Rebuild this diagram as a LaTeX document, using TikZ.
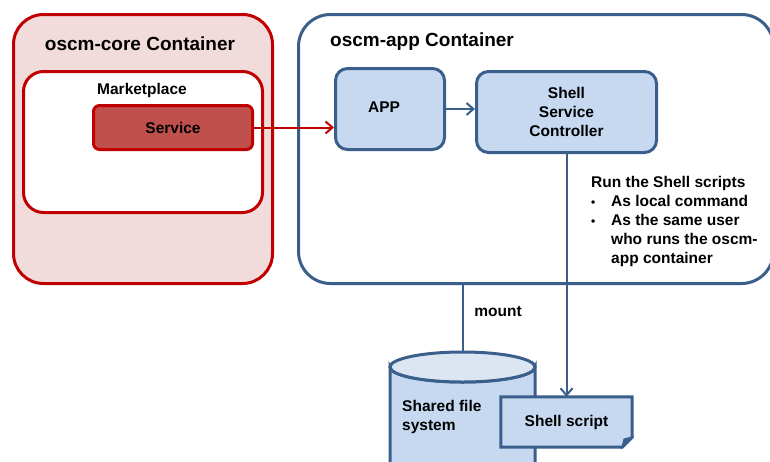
\documentclass[tikz,border=0pt]{standalone}
\usepackage{fontspec}
\setmainfont{Liberation Sans}
\usetikzlibrary{arrows.meta}
\definecolor{redline}{HTML}{C00000}
\definecolor{corefill}{HTML}{F2DCDB}
\definecolor{servfill}{HTML}{C0504D}
\definecolor{blueline}{HTML}{3A5F8B}
\definecolor{bluefill}{HTML}{C6D9F1}
\definecolor{bluetop}{HTML}{DCE6F2}
\begin{document}
\begin{tikzpicture}[x=1pt,y=-1pt,
  every node/.style={font=\fontsize{15.5}{19}\selectfont\bfseries, inner sep=0pt},
  redbox/.style={draw=redline, line width=3pt, rounded corners=#1},
  bluebox/.style={draw=blueline, line width=3pt, fill=bluefill, rounded corners=#1},
  conn/.style={line width=2pt, -{Straight Barb[length=7pt,width=12pt]}},
  title/.style={font=\fontsize{19}{23}\selectfont\bfseries}
]
\useasboundingbox (0,0) rectangle (770,461);
\clip (0,0) rectangle (770,461);
\fill[white] (0,0) rectangle (770,461);

% oscm-core container
\node[redbox=30pt, fill=corefill, minimum width=259pt, minimum height=269pt] (core) at (143,149) {};
\node[title] (coretitle) at (140,44) {oscm-core Container};
\node[redbox=20pt, fill=white, minimum width=239pt, minimum height=141pt] (market) at (143,142) {};
\node (markettxt) at (142,90) {Marketplace};
\node[redbox=6pt, fill=servfill, minimum width=159pt, minimum height=44pt] (service) at (173,127.5) {Service};

% oscm-app container
\node[draw=blueline, line width=3pt, rounded corners=32pt, fill=white, minimum width=475pt, minimum height=269pt] (app) at (536,149) {};
\node[title, anchor=west] (apptitle) at (330,42) {oscm-app Container};
\node[bluebox=12pt, minimum width=109pt, minimum height=81pt] (APP) at (390,109) {};
\node (apptxt) at (384,107) {APP};
\node[bluebox=12pt, minimum width=180pt, minimum height=81pt, align=center] (ssc) at (566.5,112) {Shell\\Service\\Controller};

\node[anchor=north west, align=left] (runtxt) at (591,176)
  {Run the Shell scripts\\
   \makebox[20pt][l]{\fontsize{12}{19}\selectfont•}As local command\\
   \makebox[20pt][l]{\fontsize{12}{19}\selectfont•}As the same user\\
   \hspace*{20pt}who runs the oscm-\\
   \hspace*{20pt}app container};

% shared file system cylinder
\coordinate (fstop) at (463,352);
\filldraw[draw=blueline, line width=3pt, fill=bluefill]
  (390,367) -- (390,478) arc[start angle=180, end angle=360, x radius=72.5pt, y radius=15pt] -- (535,367)
  arc[start angle=0, end angle=180, x radius=72.5pt, y radius=-15pt] -- cycle;
\filldraw[draw=blueline, line width=3pt, fill=bluetop] (462.5,367) ellipse[x radius=72.5pt, y radius=15pt];
\node[anchor=west, align=left] (fstxt) at (402,417) {Shared file\\system};

% shell script document
\node[minimum width=131pt, minimum height=50pt] (ss) at (566.5,422) {};
\filldraw[draw=blueline, line width=3pt, fill=bluefill, line join=miter]
  (ss.north west) -- (ss.north east) -- ([yshift=10pt]ss.south east) -- ([xshift=-10pt]ss.south east) -- (ss.south west) -- cycle;
\filldraw[draw=blueline, line width=1.5pt, fill=blueline]
  ([yshift=10pt]ss.south east) -- ([xshift=-10pt]ss.south east) -- ([xshift=-8pt,yshift=8pt]ss.south east) -- cycle;
\node (sstxt) at (ss.center) {Shell script};

% connectors
\draw[conn, draw=redline] (service.east) -- (service.east -| APP.west);
\draw[conn, draw=blueline] (APP.east) -- (APP.east -| ssc.west);
\draw[conn, draw=blueline] (ssc.south) -- (ss.north);
\draw[line width=2pt, draw=blueline] (app.south -| fstop) -- (fstop);
\node (mount) at (498,312) {mount};
\end{tikzpicture}
\end{document}
